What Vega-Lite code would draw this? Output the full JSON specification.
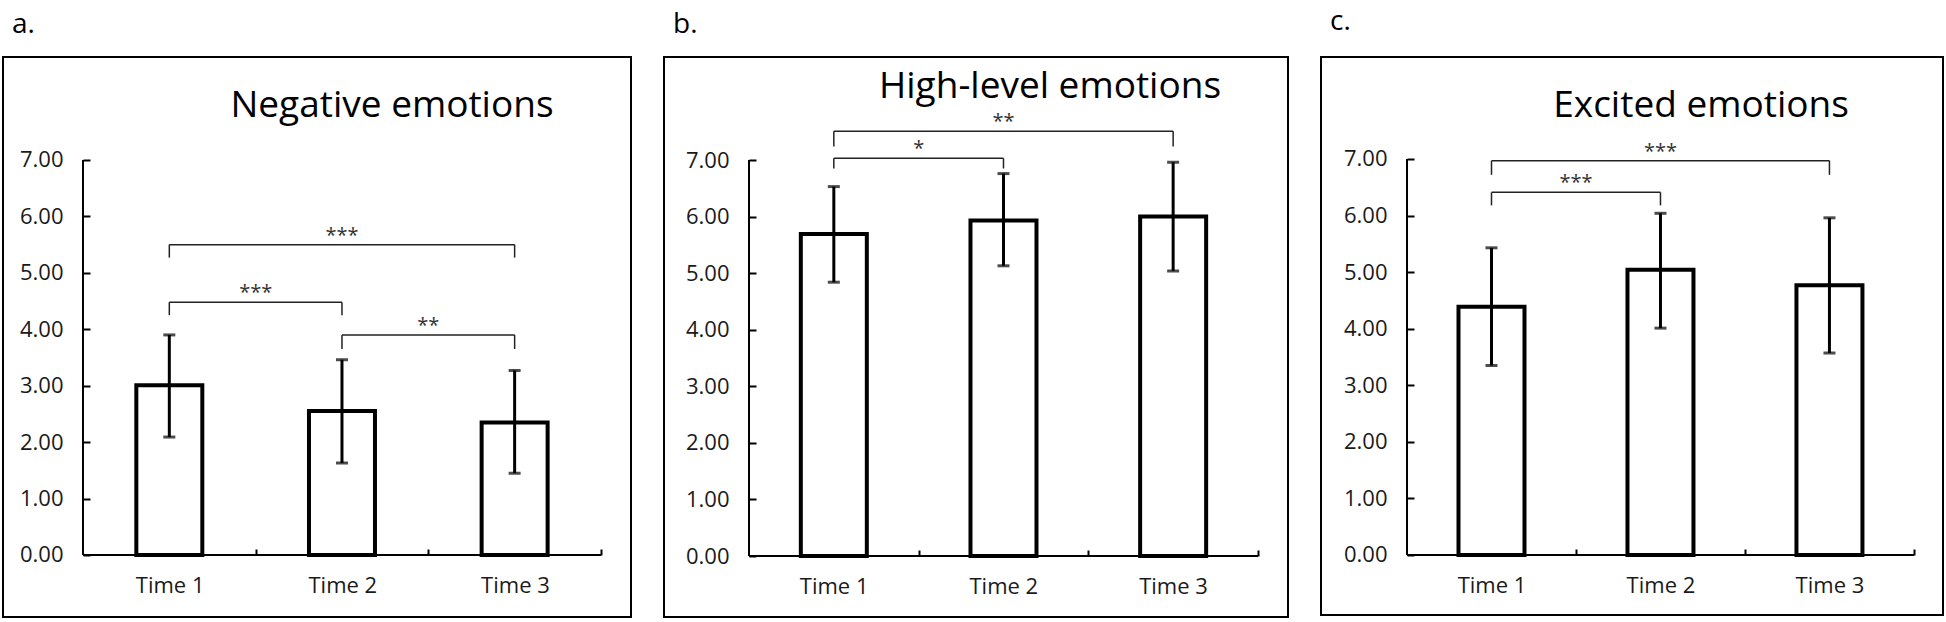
{
  "$schema": "https://vega.github.io/schema/vega-lite/v6.json",
  "padding": {"left": 2, "top": 8, "right": 0, "bottom": 0},
  "background": "white",
  "spacing": 31,
  "config": {
    "font": "Open Sans",
    "view": {"stroke": "#000", "strokeWidth": 2},
    "axis": {"grid": false, "domain": false, "tickColor": "#000", "tickWidth": 2, "labelFont": "Open Sans", "labelFontSize": 22, "labelColor": "#1a1a1a"},
    "axisY": {"tickSize": -7, "labelPadding": 27},
    "axisX": {"tickSize": -6, "labelPadding": 26, "labelAngle": 0},
    "title": {"font": "Open Sans", "fontWeight": "normal", "color": "#000"}
  },
  "datasets": {
    "a_bars": [
      {"time": "Time 1", "t": 1, "mean": 3.01, "lo": 2.09, "hi": 3.90},
      {"time": "Time 2", "t": 2, "mean": 2.55, "lo": 1.63, "hi": 3.46},
      {"time": "Time 3", "t": 3, "mean": 2.35, "lo": 1.45, "hi": 3.27}
    ],
    "b_bars": [
      {"time": "Time 1", "t": 1, "mean": 5.69, "lo": 4.84, "hi": 6.53},
      {"time": "Time 2", "t": 2, "mean": 5.93, "lo": 5.13, "hi": 6.76},
      {"time": "Time 3", "t": 3, "mean": 6.00, "lo": 5.04, "hi": 6.96}
    ],
    "c_bars": [
      {"time": "Time 1", "t": 1, "mean": 4.39, "lo": 3.35, "hi": 5.43},
      {"time": "Time 2", "t": 2, "mean": 5.04, "lo": 4.01, "hi": 6.04},
      {"time": "Time 3", "t": 3, "mean": 4.77, "lo": 3.57, "hi": 5.96}
    ],
    "a_br": [
      {"from": 1, "to": 3, "mid": 2, "y": 5.50, "leg": 5.27, "stars": "***"},
      {"from": 1, "to": 2, "mid": 1.5, "y": 4.48, "leg": 4.25, "stars": "***"},
      {"from": 2, "to": 3, "mid": 2.5, "y": 3.90, "leg": 3.65, "stars": "**"}
    ],
    "b_br": [
      {"from": 1, "to": 3, "mid": 2, "y": 7.51, "leg": 7.24, "stars": "**"},
      {"from": 1, "to": 2, "mid": 1.5, "y": 7.03, "leg": 6.85, "stars": "*"}
    ],
    "c_br": [
      {"from": 1, "to": 3, "mid": 2, "y": 6.97, "leg": 6.72, "stars": "***"},
      {"from": 1, "to": 2, "mid": 1.5, "y": 6.41, "leg": 6.18, "stars": "***"}
    ]
  },
  "hconcat": [
    {
      "title": {"text": "a.", "anchor": "start", "frame": "bounds", "fontSize": 28, "dx": 10, "dy": -2, "offset": 15},
      "vconcat": [{
        "width": 628, "height": 560,
        "title": {"text": "Negative emotions", "frame": "group", "anchor": "middle", "baseline": "alphabetic", "fontSize": 37, "dx": 75, "offset": -97},
        "layer": [
          {"data": {"name": "a_bars"}, "mark": {"type": "bar", "orient": "vertical", "width": 66, "fill": "#fff", "stroke": "#000", "strokeWidth": 4},
           "encoding": {
             "x": {"field": "t", "type": "quantitative", "title": null, "scale": {"domain": [0.0367, 3.674], "nice": false, "zero": false, "padding": 0},
                   "axis": {"title": null, "values": [1.5, 2.5, 3.5], "labelExpr": "'Time ' + (datum.value - 0.5)", "labelOffset": -86, "offset": -62}},
             "y": {"field": "mean", "type": "quantitative", "title": null, "stack": null, "scale": {"domain": [-1.099, 8.825], "nice": false, "zero": false, "padding": 0},
                   "axis": {"title": null, "values": [0, 1, 2, 3, 4, 5, 6, 7], "format": ".2f", "offset": -80}},
             "y2": {"datum": 0}}},
          {"data": {"values": [{}]}, "mark": {"type": "rule", "strokeWidth": 2, "color": "#000"},
           "encoding": {"x": {"datum": 0.5, "type": "quantitative"}, "y": {"datum": 0, "type": "quantitative"}, "y2": {"datum": 7}}},
          {"data": {"values": [{}]}, "mark": {"type": "rule", "strokeWidth": 2, "color": "#000"},
           "encoding": {"x": {"datum": 0.5, "type": "quantitative"}, "x2": {"datum": 3.5}, "y": {"datum": 0, "type": "quantitative"}}},
          {"data": {"name": "a_bars"}, "mark": {"type": "rule", "strokeWidth": 3, "color": "#000"},
           "encoding": {"x": {"field": "t", "type": "quantitative"}, "y": {"field": "lo", "type": "quantitative"}, "y2": {"field": "hi"}}},
          {"data": {"name": "a_bars"}, "mark": {"type": "tick", "orient": "horizontal", "size": 12, "thickness": 3, "color": "#000"},
           "encoding": {"x": {"field": "t", "type": "quantitative"}, "y": {"field": "lo", "type": "quantitative"}}},
          {"data": {"name": "a_bars"}, "mark": {"type": "tick", "orient": "horizontal", "size": 12, "thickness": 3, "color": "#000"},
           "encoding": {"x": {"field": "t", "type": "quantitative"}, "y": {"field": "hi", "type": "quantitative"}}},
          {"data": {"name": "a_br"}, "mark": {"type": "rule", "strokeWidth": 1.5, "color": "#222"},
           "encoding": {"x": {"field": "from", "type": "quantitative"}, "x2": {"field": "to"}, "y": {"field": "y", "type": "quantitative"}}},
          {"data": {"name": "a_br"}, "mark": {"type": "rule", "strokeWidth": 1.5, "color": "#222"},
           "encoding": {"x": {"field": "from", "type": "quantitative"}, "y": {"field": "leg", "type": "quantitative"}, "y2": {"field": "y"}}},
          {"data": {"name": "a_br"}, "mark": {"type": "rule", "strokeWidth": 1.5, "color": "#222"},
           "encoding": {"x": {"field": "to", "type": "quantitative"}, "y": {"field": "leg", "type": "quantitative"}, "y2": {"field": "y"}}},
          {"data": {"name": "a_br"}, "mark": {"type": "text", "fontSize": 20, "color": "#333", "baseline": "alphabetic", "dy": -3},
           "encoding": {"x": {"field": "mid", "type": "quantitative"}, "y": {"field": "y", "type": "quantitative"}, "text": {"field": "stars"}}}
        ]
      }]
    },
    {
      "title": {"text": "b.", "anchor": "start", "frame": "bounds", "fontSize": 28, "dx": 10, "dy": -2, "offset": 15},
      "vconcat": [{
        "width": 624, "height": 560,
        "title": {"text": "High-level emotions", "frame": "group", "anchor": "middle", "baseline": "alphabetic", "fontSize": 37, "dx": 74, "offset": -78},
        "layer": [
          {"data": {"name": "b_bars"}, "mark": {"type": "bar", "orient": "vertical", "width": 66, "fill": "#fff", "stroke": "#000", "strokeWidth": 4},
           "encoding": {
             "x": {"field": "t", "type": "quantitative", "title": null, "scale": {"domain": [-0.001, 3.677], "nice": false, "zero": false, "padding": 0},
                   "axis": {"title": null, "values": [1.5, 2.5, 3.5], "labelExpr": "'Time ' + (datum.value - 0.5)", "labelOffset": -85, "offset": -61}},
             "y": {"field": "mean", "type": "quantitative", "title": null, "stack": null, "scale": {"domain": [-1.078, 8.821], "nice": false, "zero": false, "padding": 0},
                   "axis": {"title": null, "values": [0, 1, 2, 3, 4, 5, 6, 7], "format": ".2f", "offset": -85}},
             "y2": {"datum": 0}}},
          {"data": {"values": [{}]}, "mark": {"type": "rule", "strokeWidth": 2, "color": "#000"},
           "encoding": {"x": {"datum": 0.5, "type": "quantitative"}, "y": {"datum": 0, "type": "quantitative"}, "y2": {"datum": 7}}},
          {"data": {"values": [{}]}, "mark": {"type": "rule", "strokeWidth": 2, "color": "#000"},
           "encoding": {"x": {"datum": 0.5, "type": "quantitative"}, "x2": {"datum": 3.5}, "y": {"datum": 0, "type": "quantitative"}}},
          {"data": {"name": "b_bars"}, "mark": {"type": "rule", "strokeWidth": 3, "color": "#000"},
           "encoding": {"x": {"field": "t", "type": "quantitative"}, "y": {"field": "lo", "type": "quantitative"}, "y2": {"field": "hi"}}},
          {"data": {"name": "b_bars"}, "mark": {"type": "tick", "orient": "horizontal", "size": 12, "thickness": 3, "color": "#000"},
           "encoding": {"x": {"field": "t", "type": "quantitative"}, "y": {"field": "lo", "type": "quantitative"}}},
          {"data": {"name": "b_bars"}, "mark": {"type": "tick", "orient": "horizontal", "size": 12, "thickness": 3, "color": "#000"},
           "encoding": {"x": {"field": "t", "type": "quantitative"}, "y": {"field": "hi", "type": "quantitative"}}},
          {"data": {"name": "b_br"}, "mark": {"type": "rule", "strokeWidth": 1.5, "color": "#222"},
           "encoding": {"x": {"field": "from", "type": "quantitative"}, "x2": {"field": "to"}, "y": {"field": "y", "type": "quantitative"}}},
          {"data": {"name": "b_br"}, "mark": {"type": "rule", "strokeWidth": 1.5, "color": "#222"},
           "encoding": {"x": {"field": "from", "type": "quantitative"}, "y": {"field": "leg", "type": "quantitative"}, "y2": {"field": "y"}}},
          {"data": {"name": "b_br"}, "mark": {"type": "rule", "strokeWidth": 1.5, "color": "#222"},
           "encoding": {"x": {"field": "to", "type": "quantitative"}, "y": {"field": "leg", "type": "quantitative"}, "y2": {"field": "y"}}},
          {"data": {"name": "b_br"}, "mark": {"type": "text", "fontSize": 20, "color": "#333", "baseline": "alphabetic", "dy": -3},
           "encoding": {"x": {"field": "mid", "type": "quantitative"}, "y": {"field": "y", "type": "quantitative"}, "text": {"field": "stars"}}}
        ]
      }]
    },
    {
      "title": {"text": "c.", "anchor": "start", "frame": "bounds", "fontSize": 28, "dx": 10, "dy": -2, "offset": 18},
      "vconcat": [{
        "width": 622, "height": 558,
        "title": {"text": "Excited emotions", "frame": "group", "anchor": "middle", "baseline": "alphabetic", "fontSize": 37, "dx": 69, "offset": -97},
        "layer": [
          {"data": {"name": "c_bars"}, "mark": {"type": "bar", "orient": "vertical", "width": 66, "fill": "#fff", "stroke": "#000", "strokeWidth": 4},
           "encoding": {
             "x": {"field": "t", "type": "quantitative", "title": null, "scale": {"domain": [-0.009, 3.672], "nice": false, "zero": false, "padding": 0},
                   "axis": {"title": null, "values": [1.5, 2.5, 3.5], "labelExpr": "'Time ' + (datum.value - 0.5)", "labelOffset": -84.5, "offset": -60}},
             "y": {"field": "mean", "type": "quantitative", "title": null, "stack": null, "scale": {"domain": [-1.061, 8.803], "nice": false, "zero": false, "padding": 0},
                   "axis": {"title": null, "values": [0, 1, 2, 3, 4, 5, 6, 7], "format": ".2f", "offset": -86}},
             "y2": {"datum": 0}}},
          {"data": {"values": [{}]}, "mark": {"type": "rule", "strokeWidth": 2, "color": "#000"},
           "encoding": {"x": {"datum": 0.5, "type": "quantitative"}, "y": {"datum": 0, "type": "quantitative"}, "y2": {"datum": 7}}},
          {"data": {"values": [{}]}, "mark": {"type": "rule", "strokeWidth": 2, "color": "#000"},
           "encoding": {"x": {"datum": 0.5, "type": "quantitative"}, "x2": {"datum": 3.5}, "y": {"datum": 0, "type": "quantitative"}}},
          {"data": {"name": "c_bars"}, "mark": {"type": "rule", "strokeWidth": 3, "color": "#000"},
           "encoding": {"x": {"field": "t", "type": "quantitative"}, "y": {"field": "lo", "type": "quantitative"}, "y2": {"field": "hi"}}},
          {"data": {"name": "c_bars"}, "mark": {"type": "tick", "orient": "horizontal", "size": 12, "thickness": 3, "color": "#000"},
           "encoding": {"x": {"field": "t", "type": "quantitative"}, "y": {"field": "lo", "type": "quantitative"}}},
          {"data": {"name": "c_bars"}, "mark": {"type": "tick", "orient": "horizontal", "size": 12, "thickness": 3, "color": "#000"},
           "encoding": {"x": {"field": "t", "type": "quantitative"}, "y": {"field": "hi", "type": "quantitative"}}},
          {"data": {"name": "c_br"}, "mark": {"type": "rule", "strokeWidth": 1.5, "color": "#222"},
           "encoding": {"x": {"field": "from", "type": "quantitative"}, "x2": {"field": "to"}, "y": {"field": "y", "type": "quantitative"}}},
          {"data": {"name": "c_br"}, "mark": {"type": "rule", "strokeWidth": 1.5, "color": "#222"},
           "encoding": {"x": {"field": "from", "type": "quantitative"}, "y": {"field": "leg", "type": "quantitative"}, "y2": {"field": "y"}}},
          {"data": {"name": "c_br"}, "mark": {"type": "rule", "strokeWidth": 1.5, "color": "#222"},
           "encoding": {"x": {"field": "to", "type": "quantitative"}, "y": {"field": "leg", "type": "quantitative"}, "y2": {"field": "y"}}},
          {"data": {"name": "c_br"}, "mark": {"type": "text", "fontSize": 20, "color": "#333", "baseline": "alphabetic", "dy": -3},
           "encoding": {"x": {"field": "mid", "type": "quantitative"}, "y": {"field": "y", "type": "quantitative"}, "text": {"field": "stars"}}}
        ]
      }]
    }
  ]
}
